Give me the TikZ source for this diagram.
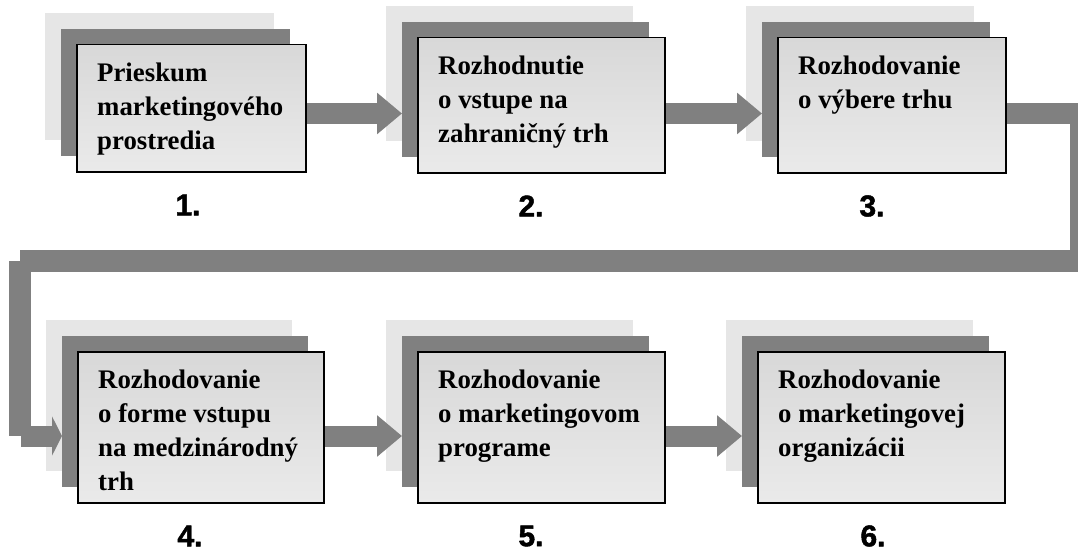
\documentclass[tikz,border=0pt]{standalone}
\usepackage{fontspec}
\setmainfont{Liberation Serif}
\setsansfont{Liberation Sans}
\newfontfamily\heavysans{Liberation Sans}[BoldFeatures={FakeBold=1.6}]
\usetikzlibrary{arrows.meta, positioning, calc}
\definecolor{backlight}{HTML}{E6E6E6}
\definecolor{backdark}{HTML}{808080}
\definecolor{cardtop}{HTML}{D8D8D8}
\definecolor{cardbottom}{HTML}{EAEAEA}
\definecolor{flowgray}{HTML}{808080}

\begin{document}
\begin{tikzpicture}[
    x=1pt, y=-1pt,
    layer/.style={rectangle, inner sep=0pt, anchor=north west, draw=none},
    card/.style={rectangle, inner sep=0pt, anchor=north west, draw=black, line width=1.5pt, top color=cardtop, bottom color=cardbottom},
    cardtext/.style={anchor=north west, inner sep=0pt, align=left, font=\fontsize{26.8}{34}\selectfont\bfseries},
    stepnum/.style={inner sep=0pt, font=\fontsize{30}{30}\selectfont\heavysans\bfseries},
    flow/.style={draw=flowgray, line width=21pt, shorten <=0.75pt, -{Triangle[length=25pt, width=40pt]}},
    bar/.style={draw=flowgray, line width=21.5pt},
]
    \useasboundingbox (0,0) rectangle (1078,559);
    \clip (0,0) rectangle (1078,559);

    % Stacked cards
    \foreach \n/\x/\y/\w/\h/\lx/\t in {
        1/76/44/229/127/188/{Prieskum\\marketingového\\prostredia},
        2/417/37/247/135/531/{Rozhodnutie\\o vstupe na\\zahraničný trh},
        3/777/37/228/135/872/{Rozhodovanie\\o výbere trhu},
        4/77/351/246/151/190/{Rozhodovanie\\o forme vstupu\\na medzinárodný\\trh},
        5/417/351/247/151/531/{Rozhodovanie\\o marketingovom\\programe},
        6/757/351/247/151/873/{Rozhodovanie\\o marketingovej\\organizácii}} {
        \node[layer, fill=backlight, minimum width=\w pt, minimum height=\h pt] (l\n) at (\x-31,\y-31) {};
        \node[layer, fill=backdark, minimum width=\w pt, minimum height=\h pt] (d\n) at (\x-15,\y-15) {};
        \node[card, minimum width=\w pt, minimum height=\h pt] (f\n) at (\x,\y) {};
        \node[cardtext] (t\n) at (\x+21,\y+19) {\t};
        \node[stepnum] (n\n) at (\lx,\y+\h+34) {\n.};
    }

    % Arrows between cards
    \draw[flow] (f1.east |- 0,113.5) -- (d2.west |- 0,113.5);
    \draw[flow] (f2.east |- 0,113.5) -- (d3.west |- 0,113.5);
    \draw[flow] (f4.east |- 0,436) -- (d5.west |- 0,436);
    \draw[flow] (f5.east |- 0,436) -- (d6.west |- 0,436);

    % Return line from 3 to 4
    \coordinate (turnNE) at (1081,113.5);
    \coordinate (turnSE) at (1081,261);
    \coordinate (turnSW) at (20,261);
    \coordinate (turnW) at (20,436);
    \draw[bar, shorten <=0.75pt] (f3.east |- turnNE) -- (turnNE) -- (turnSE) -- (turnSW);
    \draw[bar, line width=22pt] (turnSW) -- (turnW);
    \draw[flow, -{Triangle[length=10pt, width=39pt]}] (turnW) -- (d4.west |- turnW);
\end{tikzpicture}
\end{document}
